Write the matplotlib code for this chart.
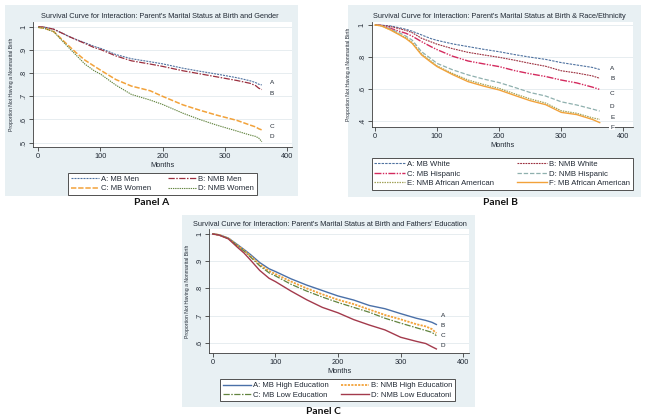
import matplotlib
matplotlib.use("Agg")
import matplotlib.pyplot as plt
from matplotlib.patches import Rectangle

plt.rcParams['font.family'] = ['Liberation Sans', 'DejaVu Sans']

# ---------------- DATA ----------------
# Panel A: Parent's Marital Status at Birth and Gender
months_a = [0, 10, 25, 40, 50, 60, 75, 90, 100, 125, 150, 180, 200, 233, 260, 287, 320, 341, 350, 355, 360]
a_mb_men = [1.0, .998, .989, .970, .957, .946, .931, .915, .907, .880, .862, .849, .840, .821, .808, .796, .780, .767, .759, .752, .749]
a_nmb_men = [1.0, .998, .989, .970, .957, .945, .928, .910, .902, .874, .853, .839, .829, .810, .797, .784, .768, .756, .746, .735, .729]
a_mb_women = [.997, .993, .979, .940, .915, .890, .856, .830, .813, .772, .744, .724, .700, .663, .640, .619, .596, .576, .568, .560, .555]
a_nmb_women = [.997, .993, .978, .935, .907, .880, .839, .810, .796, .748, .708, .684, .665, .627, .600, .576, .550, .533, .527, .520, .504]
labels_a = ["A: MB Men", "B: NMB Men", "C: MB Women", "D: NMB Women"]
letters_a = ["A", "B", "C", "D"]
letter_y_a = [.76, .713, .569, .526]

# Panel B: Parent's Marital Status at Birth & Race/Ethnicity
months_b = [0, 10, 25, 40, 50, 60, 75, 90, 100, 125, 150, 175, 200, 225, 250, 275, 300, 325, 350, 362]
b_mb_white = [1.0, .999, .994, .982, .973, .961, .938, .915, .904, .882, .865, .848, .833, .815, .799, .785, .765, .750, .735, .722]
b_nmb_white = [1.0, .998, .990, .976, .966, .952, .917, .895, .880, .852, .829, .813, .798, .780, .760, .742, .714, .700, .682, .667]
b_mb_hisp = [1.0, .997, .979, .960, .948, .930, .896, .865, .846, .805, .775, .757, .740, .715, .695, .678, .656, .638, .612, .597]
b_nmb_hisp = [1.0, .996, .975, .950, .930, .905, .833, .790, .760, .720, .688, .662, .640, .610, .578, .556, .520, .500, .475, .462]
b_nmb_afam = [1.0, .995, .970, .940, .920, .890, .819, .775, .744, .697, .656, .628, .604, .570, .538, .512, .464, .448, .420, .410]
b_mb_afam = [1.0, .995, .969, .937, .915, .885, .813, .768, .740, .690, .646, .618, .594, .560, .527, .502, .454, .440, .410, .390]
labels_b = ["A: MB White", "B: NMB White", "C: MB Hispanic", "D: NMB Hispanic",
            "E: NMB African American", "F: MB African American"]
letters_b = ["A", "B", "C", "D", "E", "F"]
letter_y_b = [.726, .666, .573, .489, .423, .362]

# Panel C: Parent's Marital Status at Birth and Fathers' Education
months_c = [0, 10, 25, 40, 50, 60, 75, 90, 100, 125, 150, 175, 200, 225, 250, 275, 300, 325, 340, 350, 357]
c_mb_high = [1.0, .997, .985, .960, .943, .925, .895, .872, .862, .835, .812, .792, .772, .757, .737, .725, .707, .690, .682, .675, .667]
c_nmb_high = [1.0, .997, .984, .957, .940, .920, .888, .864, .853, .825, .800, .778, .758, .742, .722, .702, .686, .668, .660, .650, .635]
c_mb_low = [1.0, .997, .983, .955, .937, .916, .883, .857, .846, .815, .790, .768, .748, .730, .712, .690, .672, .655, .645, .638, .626]
c_nmb_low = [1.0, .996, .982, .950, .930, .905, .866, .837, .825, .790, .758, .730, .710, .685, .665, .647, .620, .605, .597, .585, .577]
labels_c = ["A: MB High Education", "B: NMB High Education", "C: MB Low Education", "D: NMB Low Educatoni"]
letters_c = ["A", "B", "C", "D"]
letter_y_c = [.700, .663, .626, .589]

xticks = [0, 100, 200, 300, 400]
yticks_a = [.5, .6, .7, .8, .9, 1.0]
yticks_b = [.4, .6, .8, 1.0]
yticks_c = [.6, .7, .8, .9, 1.0]

titles = ["Survival Curve for Interaction: Parent's Marital Status at Birth and Gender",
          "Survival Curve for Interaction: Parent's Marital Status at Birth & Race/Ethnicity",
          "Survival Curve for Interaction: Parent's Marital Status at Birth and Fathers' Education"]
panel_names = ["Panel A", "Panel B", "Panel C"]
ylabel_text = "Proportion Not Having a Nonmarital Birth"
xlabel_text = "Months"

# ---------------- STYLE ----------------
W, H = 647, 420
BG = '#e8f0f3'
AX_COL = '#3c3c3c'
TXT = '#222a35'
BLUE = '#4f72a0'
RED = '#9b2f3e'
ORANGE = '#f2a23a'
GREEN = '#62843f'
CRIMSON = '#d42a5e'
TEAL = '#8fb0ae'
OLIVE = '#a3a35a'
CBLUE = '#4a70a8'
MAROON = '#a33a4c'

fig = plt.figure(figsize=(W / 100, H / 100), dpi=100)


def fx(x):
    return x / W


def fy(y):
    return 1 - y / H


def add_bg(x0, y0, x1, y1):
    fig.patches.append(Rectangle((fx(x0), fy(y1)), (x1 - x0) / W, (y1 - y0) / H,
                                 transform=fig.transFigure, facecolor=BG,
                                 edgecolor='none', zorder=-5))


def make_axes(box, xcal, ycal):
    # box: pixel box of the plot region; xcal: (px of 0, px of 400); ycal: (py, val, py, val)
    x0, y0, x1, y1 = box
    ax = fig.add_axes([fx(x0), fy(y1), (x1 - x0) / W, (y1 - y0) / H])
    s = (xcal[1] - xcal[0]) / 400.0
    ax.set_xlim((x0 - xcal[0]) / s, (x1 - xcal[0]) / s)
    pt, vt, pb, vb = ycal
    sy = (pb - pt) / (vt - vb)
    ax.set_ylim(vb - (y1 - pb) / sy, vt + (pt - y0) / sy)
    ax.set_facecolor('white')
    for sp in ['top', 'right']:
        ax.spines[sp].set_visible(False)
    for sp in ['left', 'bottom']:
        ax.spines[sp].set_color(AX_COL)
        ax.spines[sp].set_linewidth(0.6)
    ax.tick_params(direction='out', length=3, width=0.6, color=AX_COL,
                   labelsize=5.3, labelcolor=TXT, pad=1.2)
    ax.set_xticks(xticks)
    ax.set_xticklabels([str(t) for t in xticks])
    return ax


def fmt_y(v):
    return "1" if abs(v - 1) < 1e-9 else ("%.1f" % v).lstrip('0')


def finish_y(ax, yt, labelpad):
    ax.set_yticks(yt)
    ax.set_yticklabels([fmt_y(v) for v in yt], rotation=90, va='center')
    for v in yt:
        ax.axhline(v, color='#e3eaee', lw=0.6, zorder=0)
    ax.set_ylabel(ylabel_text, fontsize=3.7, color=TXT, labelpad=labelpad)
    ax.set_xlabel(xlabel_text, fontsize=5.3, color=TXT, labelpad=1.5)


def add_legend(ax, handles, labels, box, handlelen, fs=5.6):
    x0, y0, x1, y1 = box
    leg = ax.legend(handles, labels, ncol=2, loc='center', mode='expand',
                    bbox_to_anchor=(fx(x0), fy(y1), (x1 - x0) / W, (y1 - y0) / H),
                    bbox_transform=fig.transFigure, fontsize=fs, frameon=True,
                    fancybox=False, edgecolor='#505050', framealpha=1,
                    handlelength=handlelen, handletextpad=0.3, borderaxespad=0,
                    borderpad=0.35, labelspacing=0.25, columnspacing=1.0)
    leg.get_frame().set_linewidth(0.7)
    for t in leg.get_texts():
        t.set_color(TXT)
    return leg


TITLE_FS = 5.27

# ---------------- PANEL A ----------------
add_bg(5, 5, 298, 196)
axA = make_axes((33.3, 22, 292, 147.2), (38.3, 286.7), (26.7, 1.0, 142.7, 0.5))
styA = [dict(color=BLUE, ls=(0, (1.8, 0.9)), lw=0.8),
        dict(color=RED, ls=(0, (5, 1.2, 1.2, 1.2)), lw=0.9),
        dict(color=ORANGE, ls=(0, (3.5, 1.2)), lw=1.1),
        dict(color=GREEN, ls=(0, (1.2, 0.8)), lw=0.8)]
hA = []
for ys, st, lab in zip([a_mb_men, a_nmb_men, a_mb_women, a_nmb_women], styA, labels_a):
    ln, = axA.plot(months_a, ys, label=lab, **st)
    hA.append(ln)
for L, yv in zip(letters_a, letter_y_a):
    axA.text(376, yv, L, fontsize=4.6, color=TXT, ha='center', va='center')
finish_y(axA, yticks_a, 4.5)
add_legend(axA, [hA[0], hA[2], hA[1], hA[3]], [labels_a[0], labels_a[2], labels_a[1], labels_a[3]],
           (68, 173.5, 256.5, 194.5), 3.6)
fig.text(fx(159.5), fy(16), titles[0], fontsize=TITLE_FS, color=TXT, ha='center', va='center')
fig.text(fx(151.7), fy(202), panel_names[0], fontsize=7.4, fontweight='bold',
         family=['Lato', 'DejaVu Sans'], ha='center', va='center', color='#111111')

# ---------------- PANEL B ----------------
add_bg(348, 5, 641, 196.5)
axB = make_axes((371.7, 21.7, 632.7, 126.7), (375, 623.3), (25, 1.0, 121, 0.4))
styB = [dict(color=BLUE, ls=(0, (2.2, 1.0)), lw=0.8),
        dict(color=RED, ls=(0, (1.6, 0.8)), lw=0.8),
        dict(color=CRIMSON, ls=(0, (5, 1, 1, 1, 1, 1)), lw=1.0),
        dict(color=TEAL, ls=(0, (3.5, 1.5)), lw=0.9),
        dict(color=OLIVE, ls=(0, (1.2, 0.8)), lw=0.9),
        dict(color=ORANGE, ls='-', lw=1.0)]
hB = []
for ys, st, lab in zip([b_mb_white, b_nmb_white, b_mb_hisp, b_nmb_hisp, b_nmb_afam, b_mb_afam], styB, labels_b):
    ln, = axB.plot(months_b, ys, label=lab, **st)
    hB.append(ln)
for L, yv in zip(letters_b, letter_y_b):
    axB.text(382, yv, L, fontsize=4.6, color=TXT, ha='center', va='center',
             bbox=dict(facecolor='white', edgecolor='none', pad=0.6) if L == 'F' else None)
finish_y(axB, yticks_b, 5.5)
add_legend(axB, [hB[0], hB[2], hB[4], hB[1], hB[3], hB[5]],
           [labels_b[0], labels_b[2], labels_b[4], labels_b[1], labels_b[3], labels_b[5]],
           (371.7, 153.3, 633, 194.3), 3.9)
fig.text(fx(499), fy(16), titles[1], fontsize=TITLE_FS, color=TXT, ha='center', va='center')
fig.text(fx(500), fy(202), panel_names[1], fontsize=7.4, fontweight='bold',
         family=['Lato', 'DejaVu Sans'], ha='center', va='center', color='#111111')

# ---------------- PANEL C ----------------
add_bg(181.7, 214.5, 475, 406.5)
axC = make_axes((209.3, 229, 469, 352.7), (212.7, 463.3), (234, 1.0, 342.7, 0.6))
styC = [dict(color=CBLUE, ls='-', lw=1.0),
        dict(color=ORANGE, ls=(0, (1.2, 0.7)), lw=1.3),
        dict(color=GREEN, ls=(0, (5, 1.2, 1.2, 1.2)), lw=0.9),
        dict(color=MAROON, ls='-', lw=1.0)]
hC = []
for ys, st, lab in zip([c_mb_high, c_nmb_high, c_mb_low, c_nmb_low], styC, labels_c):
    ln, = axC.plot(months_c, ys, label=lab, **st)
    hC.append(ln)
for L, yv in zip(letters_c, letter_y_c):
    axC.text(367, yv, L, fontsize=4.6, color=TXT, ha='center', va='center')
finish_y(axC, yticks_c, 5.0)
add_legend(axC, [hC[0], hC[2], hC[1], hC[3]], [labels_c[0], labels_c[2], labels_c[1], labels_c[3]],
           (220, 379, 455, 401.7), 3.6)
fig.text(fx(329.5), fy(224.3), titles[2], fontsize=TITLE_FS, color=TXT, ha='center', va='center')
fig.text(fx(323.3), fy(412), panel_names[2], fontsize=7.4, fontweight='bold',
         family=['Lato', 'DejaVu Sans'], ha='center', va='center', color='#111111')

fig.savefig('out.png', dpi=100, facecolor='white')
